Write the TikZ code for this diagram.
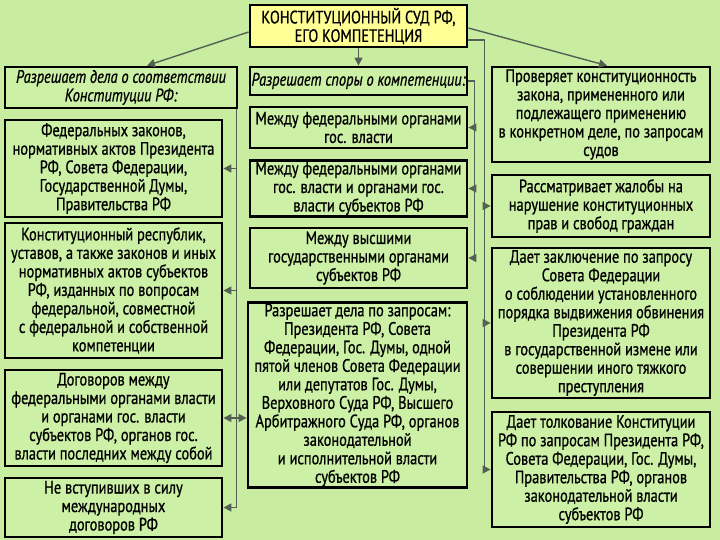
\documentclass[tikz,border=0pt]{standalone}
\usepackage{fontspec}
\setmainfont[FakeStretch=0.8,FakeBold=0.8]{PT Sans}
\usepackage{tikz}
\usetikzlibrary{arrows,arrows.meta}
\definecolor{bggreen}{RGB}{200,236,160}
\definecolor{boxgreen}{RGB}{204,240,166}
\definecolor{titleyellow}{RGB}{255,255,150}
\definecolor{linkgray}{RGB}{84,96,84}
\newcommand{\boxfont}{\fontsize{18}{18.5}\selectfont}
\tikzstyle{box} = [
  draw=black,
  line width=2.8pt,
  rectangle,
  fill=boxgreen,
  align=center,
  inner sep=1pt,
  font=\boxfont,
]
\tikzstyle{title} = [
  box,
  fill=titleyellow,
]
\tikzstyle{header} = [
  box,
  font=\boxfont\itshape,
]
\tikzstyle{link} = [
  draw=linkgray,
  line width=1.4pt,
]
\tikzstyle{tip} = [
  link,
  -{Triangle[length=8pt,width=8pt]},
]

\begin{document}
\begin{tikzpicture}[
    x=1pt,
    y=-1pt,
  ]
  \fill[bggreen] (0,0) rectangle (720,540);
  \useasboundingbox (0,0) rectangle (720,540);
  \node[title, minimum width=217pt, minimum height=42pt]
    (court) at (358.5,26) {КОНСТИТУЦИОННЫЙ СУД РФ,\\ЕГО КОМПЕТЕНЦИЯ};
  \node[header, minimum width=232pt, minimum height=41pt]
    (lhead) at (121,87.5) {Разрешает дела о соответствии\\Конституции РФ:};
  \node[box, minimum width=217pt, minimum height=97pt]
    (laws) at (113.5,168.5) {Федеральных законов,\\нормативных актов Президента\\РФ, Совета Федерации,\\Государственной Думы,\\Правительства РФ};
  \node[box, minimum width=217pt, minimum height=135pt]
    (regional) at (113.5,290.5) {Конституционный республик,\\уставов, а также законов и иных\\нормативных актов субъектов\\РФ, изданных по вопросам\\федеральной, совместной\\с федеральной и собственной\\компетенции};
  \node[box, minimum width=217pt, minimum height=96pt]
    (treaties) at (113.5,418) {Договоров между\\федеральными органами власти\\и органами гос. власти\\субъектов РФ, органов гос.\\власти последних между собой};
  \node[box, minimum width=217pt, minimum height=59pt]
    (intl) at (113.5,507.5) {Не вступивших в силу\\международных\\договоров РФ};
  \node[header, minimum width=217pt, minimum height=28pt]
    (mhead) at (358.5,81) {Разрешает споры о компетенции:};
  \node[box, minimum width=217pt, minimum height=41pt]
    (mfed) at (358.5,127.5) {Между федеральными органами\\гос. власти};
  \node[box, minimum width=217pt, minimum height=53pt]
    (mfedreg) at (358.5,188.5) {Между федеральными органами\\гос. власти и органами гос.\\власти субъектов РФ};
  \node[box, minimum width=217pt, minimum height=60pt]
    (mhigh) at (358.5,258) {Между высшими\\государственными органами\\субъектов РФ};
  \node[box, minimum width=219pt, minimum height=184pt]
    (mreq) at (357.5,395) {Разрешает дела по запросам:\\Президента РФ, Совета\\Федерации, Гос. Думы, одной\\пятой членов Совета Федерации\\или депутатов Гос. Думы,\\Верховного Суда РФ, Высшего\\Арбитражного Суда РФ, органов\\законодательной\\и исполнительной власти\\субъектов РФ};
  \node[box, minimum width=218pt, minimum height=95pt]
    (check) at (601,114.5) {Проверяет конституционность\\закона, примененного или\\подлежащего применению\\в конкретном деле, по запросам\\судов};
  \node[box, minimum width=218pt, minimum height=62pt]
    (compl) at (601,206) {Рассматривает жалобы на\\нарушение конституционных\\прав и свобод граждан};
  \node[box, minimum width=218pt, minimum height=150pt]
    (concl) at (601,323) {Дает заключение по запросу\\Совета Федерации\\о соблюдении установленного\\порядка выдвижения обвинения\\Президента РФ\\в государственной измене или\\совершении иного тяжкого\\преступления};
  \node[box, minimum width=218pt, minimum height=115pt]
    (interp) at (601,469.5) {Дает толкование Конституции\\РФ по запросам Президента РФ,\\Совета Федерации, Гос. Думы,\\Правительства РФ, органов\\законодательной власти\\субъектов РФ};
  \coordinate (lbus) at ([xshift=-2pt]lhead.south east);
  \coordinate (mbus) at ([xshift=6pt]mhead.east);
  \coordinate (rbus) at ([xshift=16pt,yshift=-14pt]court.east);
  \path [tip] ([yshift=-6pt]court.west) -- ([xshift=26pt]lhead.north);
  \path [tip] (court.south) -- (mhead.north);
  \path [tip] ([yshift=-2pt]court.east) -- ([xshift=6pt]check.north);
  \path [link] (lbus) -- (lbus |- intl.east);
  \path [tip] (lbus |- laws.east) -- (laws.east);
  \path [tip] (lbus |- regional.east) -- (regional.east);
  \path [tip] (lbus |- intl.east) -- (intl.east);
  \path [link, {Triangle[length=8pt,width=8pt]}-{Triangle[length=8pt,width=8pt]}] (treaties.east) -- (treaties.east -| mreq.west);
  \path [link] (mhead.east) -- (mbus) -- (mbus |- mhigh.east);
  \path [tip] (mbus |- mfed.east) -- (mfed.east);
  \path [tip] (mbus |- mfedreg.east) -- (mfedreg.east);
  \path [tip] (mbus |- mhigh.east) -- (mhigh.east);
  \path [link] (court.east |- rbus) -- (rbus) -- (rbus |- interp.west);
  \path [tip] (rbus |- compl.west) -- (compl.west);
  \path [tip] (rbus |- concl.west) -- (concl.west);
  \path [tip] (rbus |- interp.west) -- (interp.west);
\end{tikzpicture}
\end{document}
